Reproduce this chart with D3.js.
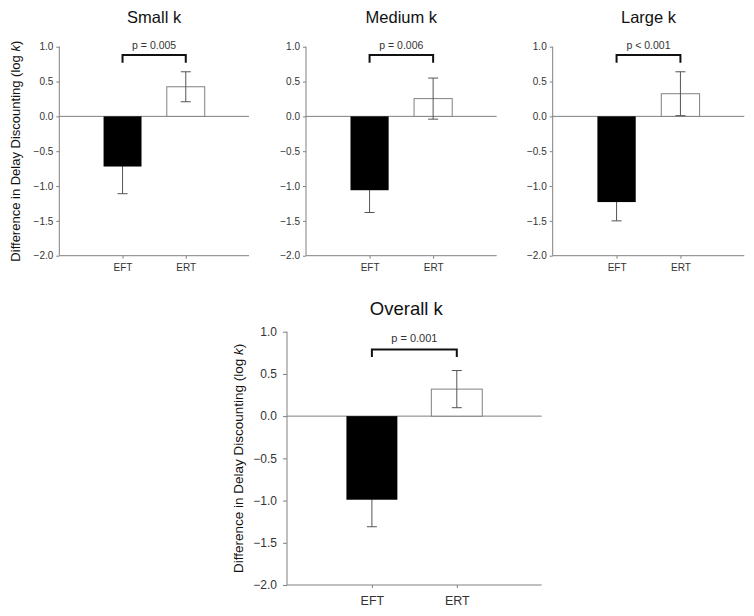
<!DOCTYPE html>
<html>
<head>
<meta charset="utf-8">
<script src="https://cdn.jsdelivr.net/npm/d3@7"></script>
<style>
  html, body { margin: 0; padding: 0; background: #fff; }
  svg { display: block; font-family: "Liberation Sans", Arial, sans-serif; }
</style>
</head>
<body>
<svg id="chart" width="754" height="616"></svg>
<script>
// ---- data ----
const panelTitles = ["Small k", "Medium k", "Large k", "Overall k"];
const categories = ["EFT", "ERT"];
const eftMeans = [-0.72, -1.06, -1.23, -0.99];
const eftErrors = [0.39, 0.32, 0.27, 0.32];
const ertMeans = [0.425, 0.255, 0.325, 0.32];
const ertErrors = [0.215, 0.295, 0.315, 0.22];
const pLabels = ["p = 0.005", "p = 0.006", "p < 0.001", "p = 0.001"];
const yTickValues = [-2.0, -1.5, -1.0, -0.5, 0.0, 0.5, 1.0];
const yDomain = [-2.0, 1.0];
const yLabelText = "Difference in Delay Discounting (log ";

// ---- layout ----
const layouts = [
  { x0: 59.3, x1: 249, y0: 46.7, y1: 255.7, big: false, ylabel: true, ylabelX: 19.5, titleY: 23, titleDx: 0, bracket: [0.88, 0.77] },
  { x0: 306, x1: 496.7, y0: 46.7, y1: 255.7, big: false, ylabel: false, titleY: 23, titleDx: 0, bracket: [0.88, 0.77] },
  { x0: 552.7, x1: 744.3, y0: 46.7, y1: 255.7, big: false, ylabel: false, titleY: 23, titleDx: 0, bracket: [0.88, 0.77] },
  { x0: 287, x1: 541.7, y0: 331.7, y1: 585, big: true, ylabel: true, ylabelX: 242.5, titleY: 315, titleDx: -8, bracket: [0.79, 0.70] }
];

const svg = d3.select("#chart");
const axisColor = "#808080";
const textColor = "#333";
const errColor = "#555";

layouts.forEach((L, i) => {
  const g = svg.append("g");
  const x = d3.scalePoint().domain(categories).range([L.x0, L.x1]).padding(1);
  const y = d3.scaleLinear().domain(yDomain).range([L.y1, L.y0]);
  const bw = x.step() * 0.6;
  const tickFont = L.big ? 12 : 10;
  const catFont = L.big ? 12.5 : 10;

  // title
  g.append("text")
    .attr("x", (L.x0 + L.x1) / 2 + L.titleDx)
    .attr("y", L.titleY)
    .attr("text-anchor", "middle")
    .attr("font-size", L.big ? 18.5 : 16.5)
    .attr("fill", "#111")
    .text(panelTitles[i]);

  // y axis
  const yAxis = d3.axisLeft(y).tickValues(yTickValues)
    .tickFormat(d3.format(".1f")).tickSize(L.big ? 4 : 3).tickPadding(L.big ? 6 : 3);
  const ya = g.append("g").attr("transform", `translate(${L.x0},0)`).call(yAxis);
  ya.select(".domain").attr("stroke", axisColor).attr("d", `M0,${L.y0}V${L.y1}`);
  ya.selectAll(".tick line").attr("stroke", axisColor);
  ya.selectAll(".tick text").attr("fill", textColor).attr("font-size", tickFont)
    .attr("font-family", "Liberation Sans, Arial, sans-serif");

  // x axis (bottom)
  const xAxis = d3.axisBottom(x).tickSize(3).tickPadding(L.big ? 8 : 5);
  const xa = g.append("g").attr("transform", `translate(0,${L.y1})`).call(xAxis);
  xa.select(".domain").attr("stroke", axisColor).attr("d", `M${L.x0},0H${L.x1}`);
  xa.selectAll(".tick line").attr("stroke", axisColor);
  xa.selectAll(".tick text").attr("fill", textColor).attr("font-size", catFont)
    .attr("font-family", "Liberation Sans, Arial, sans-serif");

  // zero line
  g.append("line")
    .attr("x1", L.x0).attr("x2", L.x1)
    .attr("y1", y(0)).attr("y2", y(0))
    .attr("stroke", axisColor).attr("stroke-width", 1);

  const rows = [
    { cat: categories[0], mean: eftMeans[i], err: eftErrors[i] },
    { cat: categories[1], mean: ertMeans[i], err: ertErrors[i] }
  ];

  // ERT bar (white)
  const ert = rows[1];
  g.append("rect")
    .attr("x", x(ert.cat) - bw / 2)
    .attr("y", y(Math.max(0, ert.mean)))
    .attr("width", bw)
    .attr("height", Math.abs(y(ert.mean) - y(0)))
    .attr("fill", "#fff").attr("stroke", axisColor).attr("stroke-width", 1);

  // error bars
  const cap = 5;
  rows.forEach(r => {
    const cx = x(r.cat);
    const lo = y(r.mean - r.err), hi = y(r.mean + r.err);
    g.append("line").attr("x1", cx).attr("x2", cx).attr("y1", lo).attr("y2", hi)
      .attr("stroke", errColor).attr("stroke-width", 1);
    [lo, hi].forEach(yy => {
      g.append("line").attr("x1", cx - cap).attr("x2", cx + cap).attr("y1", yy).attr("y2", yy)
        .attr("stroke", errColor).attr("stroke-width", 1);
    });
  });

  // EFT bar (black) on top
  const eft = rows[0];
  g.append("rect")
    .attr("x", x(eft.cat) - bw / 2)
    .attr("y", y(Math.max(0, eft.mean)))
    .attr("width", bw)
    .attr("height", Math.abs(y(eft.mean) - y(0)))
    .attr("fill", "#000");

  // significance bracket
  const bx0 = x(categories[0]), bx1 = x(categories[1]);
  const by = y(L.bracket[0]), bt = y(L.bracket[1]);
  g.append("path")
    .attr("d", `M${bx0},${bt}V${by}H${bx1}V${bt}`)
    .attr("fill", "none").attr("stroke", "#111").attr("stroke-width", 2);
  g.append("text")
    .attr("x", (bx0 + bx1) / 2)
    .attr("y", by - (L.big ? 7 : 6))
    .attr("text-anchor", "middle")
    .attr("font-size", L.big ? 11 : 10.5)
    .attr("fill", textColor)
    .text(pLabels[i]);

  // y label
  if (L.ylabel) {
    const t = g.append("text")
      .attr("transform", `translate(${L.ylabelX},${(L.y0 + L.y1) / 2}) rotate(-90)`)
      .attr("text-anchor", "middle")
      .attr("font-size", L.big ? 13.5 : 13)
      .attr("fill", "#111");
    t.append("tspan").text(yLabelText);
    t.append("tspan").attr("font-style", "italic").text("k");
    t.append("tspan").text(")");
  }
});
</script>
</body>
</html>
